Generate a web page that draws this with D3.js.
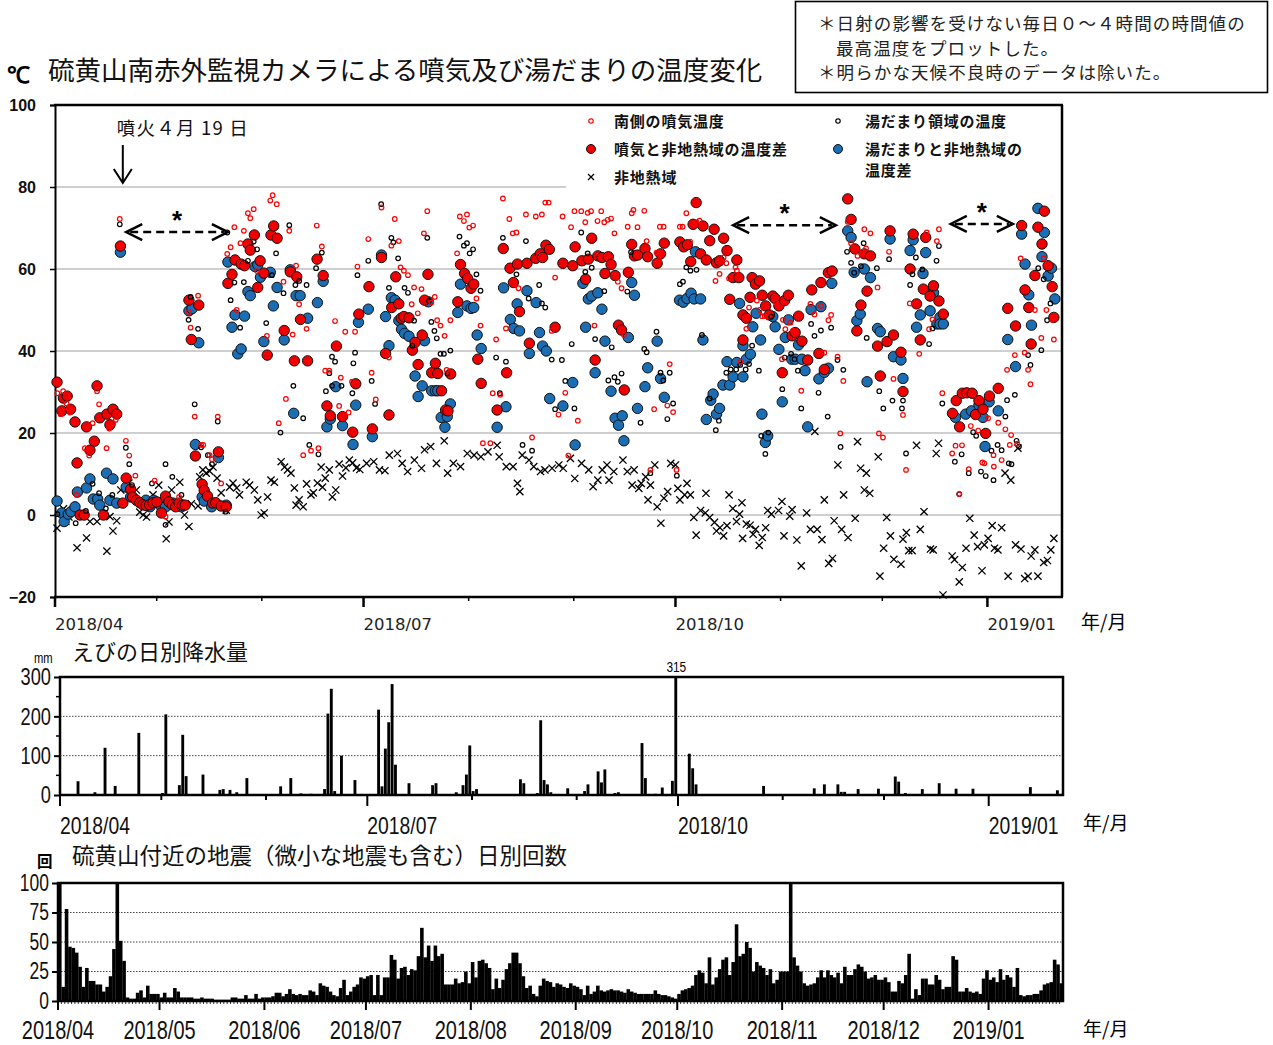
<!DOCTYPE html>
<html>
<head>
<meta charset="utf-8">
<script src="https://cdn.jsdelivr.net/npm/d3@7"></script>
<style>
  body { margin: 0; background: #fff; }
  svg { display: block; }
</style>
</head>
<body>
<svg id="chart" width="1273" height="1045"></svg>
<script>
// ---- time frame: day numbers are counted from 2018-04-01 ----
const START = new Date(Date.UTC(2018, 3, 1));
const END = new Date(Date.UTC(2019, 0, 23));

// 南側の噴気温度 [day, ℃]
const fumaroleTemp = [[0.7,29.7],[1.7,24.6],[2.4,30.2],[3.4,27.2],[4.4,25],[6.4,4.9],[8.8,16.3],[10.1,14.5],[11.1,22.4],[12.4,30.2],[13,27],[15.2,16.3],[16,21.1],[17.1,22.4],[17.9,23.2],[19.1,72.2],[20.9,18.1],[21.9,14.5],[23.7,9.6],[29.4,8.4],[32.6,-0.4],[36.6,4.4],[40,45.7],[39.5,49.5],[41.2,24],[42.2,53.5],[43.1,17.1],[43.7,17.1],[45.6,14.6],[46.3,13.6],[48,24],[49,7.7],[50.8,63.7],[51.8,65.3],[52.9,70.2],[53.6,50],[54.7,66.3],[55.7,69.3],[56.9,73.6],[57.6,72.4],[58.6,74.6],[59.6,59.5],[62.5,43.7],[63.5,76.7],[64.2,78],[65.4,75.8],[66,22.4],[67.4,56.9],[68.1,28.3],[69.1,69.3],[70.1,44],[71.1,60.8],[72,51.4],[73.2,14.6],[74.2,45.4],[75.5,15.7],[77.2,70.6],[77.7,16.3],[78.7,65.5],[79.7,35.2],[80.9,35.2],[82.6,47.3],[83.8,26.6],[84.3,33.5],[85.6,44.7],[86.6,25],[87.6,32.5],[88.5,44.7],[89.2,60.6],[92.4,67.3],[93.4,34.7],[94.6,28.2],[96.3,75],[98.5,38.4],[99.2,65.7],[100.2,72.2],[101.4,66.8],[101.9,60.4],[102.9,59.6],[104.1,58.5],[105.2,51.4],[105.9,55.5],[107,49.2],[108.1,55.1],[108.8,68.7],[109.8,74.1],[111,51.8],[112,53.2],[112.7,47.5],[113.7,46.2],[114.9,43.7],[115.5,35.4],[116.6,47.5],[118.6,63.8],[119.4,72.8],[120.6,71.7],[121.5,73.3],[122.2,70.1],[123.3,70.6],[124.3,52.8],[125.5,46.2],[126.2,17.5],[128.4,17.5],[129.1,29.7],[130.1,42.8],[131.3,29.3],[132.1,77.2],[133,45.5],[134,72.2],[135,68.7],[136.1,68.9],[136.7,55.3],[138.9,73.3],[140.7,18.9],[141.8,72.8],[143.6,73.3],[144.6,76.2],[145.6,76.2],[146.5,44.9],[147.5,57.9],[148.5,24.5],[149.7,72.8],[150.5,29.8],[151.4,14.5],[152.2,70.2],[153.2,74.1],[154.2,23],[155.2,74.1],[156.4,71.4],[157.1,73.7],[158.1,74.1],[159.1,46.2],[160,71.7],[161.1,74.1],[162,71.4],[163,72],[164,72.3],[165,68.7],[166,56.9],[167.1,55.3],[167.8,43.9],[168.9,70.3],[170.1,73.6],[170.6,74.4],[171.8,70.2],[173.8,74.2],[174.5,66.8],[175.6,11],[176.7,25.8],[177.4,64],[178.2,62],[178.4,70.3],[179.5,70.3],[180.6,26.7],[181.3,36.8],[182.3,25.1],[183.3,11],[184.3,70.3],[185.1,70.3],[186.2,73.6],[187.3,66.7],[188,62],[189.2,71.4],[190.1,71.8],[194.8,57.1],[196,58.8],[197.2,62.8],[198,61.4],[198.8,57.7],[200.7,60.4],[201.1,59.6],[202.2,37.4],[203.9,45.4],[204.7,50.6],[207,52.3],[207.8,50],[208.5,48.5],[209.3,48.5],[212.7,51.8],[214.4,38],[214.7,47.6],[215.4,45.3],[216.9,46.9],[217.6,44.9],[220.1,30.3],[222.8,51.5],[224,48.9],[225.9,51],[226.9,39.6],[228.1,47.5],[228.9,48.8],[230.8,38.6],[231.6,19.9],[232.5,32.7],[233.8,71.5],[234.8,66.3],[236.7,63.2],[238,64.2],[238.7,69.7],[239.2,65],[240.5,68.7],[242.6,55.5],[243,19.9],[244.2,18.9],[246,64.2],[247.3,33.2],[250.1,24.4],[251,11],[252.1,51.6],[254.9,39.3],[257.1,68.9],[257.8,45.3],[258.8,47.7],[260.1,66.8],[260.7,69.7],[261.7,29.7],[264.6,15],[265.6,16.9],[266.7,5.1],[266.9,21.7],[267.5,17],[269.5,11.2],[270.1,21.7],[272.3,20.6],[273.5,12.8],[274.1,12.6],[275.2,23.6],[276.8,14.6],[276.9,11.8],[278.2,22.5],[279.2,13.4],[280.3,20.9],[280.8,35.4],[281.6,17.1],[282,19.5],[283.1,39],[283.8,17.4],[284.8,62.6],[286,39.6],[287,35.4],[287.7,31.9],[289,50],[290.9,43.2],[291.6,62.6],[292.4,50],[294.1,47.6],[294.6,42.8]];

// 湯だまり領域の温度 [day, ℃]
const poolTemp = [[0.7,0.2],[6.1,-2],[9.1,1],[11.1,7.6],[13,5.3],[15,1.6],[16.9,4.9],[19.1,70.9],[20.9,16.4],[21.9,12.4],[22.7,7.3],[28.6,7.7],[32.6,-2.4],[32.6,12.4],[34.6,9.3],[37.3,4.9],[39.4,47.6],[40,53.2],[41.2,27],[42.2,45.4],[43.1,16.5],[45.1,14.6],[46.3,12.4],[48,22.8],[50.3,0.8],[50.8,68.9],[51.8,52.4],[52.9,56.7],[54.6,45.7],[55.7,56.8],[56.9,62],[58.6,66.7],[59.6,64.8],[62.3,46.8],[64,58.5],[65.2,63.8],[66.5,20.1],[67.4,54.1],[69.1,70.7],[70.3,31.5],[70.9,56.1],[72,57.1],[73.2,23.6],[74.2,56.1],[75,17.1],[77,60.2],[77.7,14.8],[78.7,64],[79.9,30.2],[80.9,34.6],[81.7,38.6],[81.7,31.5],[82.6,37.4],[84.5,31.5],[87.7,29.7],[88,37],[88.5,39.6],[89.2,58.5],[92.4,62],[93.4,32.7],[94.4,27.1],[96.2,75.8],[98.5,55.4],[99.2,67.6],[99.8,66.5],[101.2,62.6],[103.1,55.4],[104.1,54.2],[105.4,41.3],[105.9,47.4],[109.8,67.6],[110.3,52.2],[111,47.1],[111.9,44.9],[112.6,43.1],[113.7,39.3],[114.7,39.3],[115.7,34.5],[116.6,40.1],[119.3,67.9],[120.6,65.7],[121.5,66.3],[122.3,63.8],[123.3,64.8],[124.3,58.7],[125.5,54.7],[130.1,38.4],[131.2,29.7],[132.1,67.6],[133,37.4],[136.1,58.7],[137.9,17.1],[138.9,66.8],[139.7,52.8],[140.7,15.7],[142.8,56.1],[143.6,51.6],[144.6,50.6],[146.5,37.9],[147.5,25.8],[149.5,37.8],[150.5,32.7],[152.4,41.7],[153.2,26],[155.2,68.9],[156.4,59.3],[157.1,63.8],[158.3,60.3],[159.3,42.9],[162,54.6],[163.2,32.8],[164.2,40.9],[165,33.6],[166,32.5],[167.1,34.5],[168.8,54.5],[169.9,64.1],[172.7,22.5],[173.8,40.5],[174.5,39.7],[175.6,10.2],[177.4,44.7],[178.6,34.7],[179.4,32.8],[180.6,23.4],[181.3,34.7],[182.3,27.2],[183.4,9.6],[184.3,56.3],[185.2,56.9],[186.2,60.4],[187.4,59.6],[189.2,59.8],[190.8,43.9],[193.1,28.4],[194.9,20.7],[195.8,23],[198,34.7],[199.3,35.5],[200.9,35.5],[202.1,36.6],[203.7,35.5],[204.7,36.8],[205.6,41.3],[207.6,35.2],[208.3,19.3],[209.5,14.9],[210.4,20.1],[211.2,48.4],[214.5,30.7],[215.2,38.4],[217.1,39.3],[218.1,38],[219.1,35.2],[220.1,26],[223,46.6],[224,43.7],[225.2,29.8],[225.9,45],[227.9,24],[228.9,45.7],[230.8,37.8],[231.7,16.6],[232.5,35.4],[233.6,64.2],[234.8,61.5],[235.7,59.1],[237.7,60.7],[238.5,66.3],[239.4,43.2],[242.4,60.2],[243.1,30.2],[244.3,26],[246,62.4],[247,27.9],[249.8,26],[250.1,27.9],[251,15],[252.2,56.1],[252.9,58.7],[253.9,62.8],[255.8,59.9],[257.8,41.7],[258.8,45.5],[260,62],[260.7,65.6],[261.7,27.2],[265.4,13],[266.7,5.1],[267.4,14.8],[269.5,10.2],[270.8,20.2],[271.7,19.3],[273.1,10.6],[274.5,9.5],[276.2,15.7],[276.8,8.5],[278,17.1],[279.2,15.8],[280.3,24],[280.8,28],[281.3,12.6],[282.1,12.4],[283.1,29.3],[283.6,18.1],[284.3,16.7],[287,39],[287.7,36.6],[290,60.2],[290.9,40.2],[291.6,57.5],[292.6,47.5],[293.6,51.6]];

// 噴気と非地熱域の温度差 [day, ℃]
const fumaroleDiff = [[0.6,32.4],[2,25.4],[2.5,28.5],[3.6,29],[4.6,25.8],[5.9,22.7],[6.5,12.7],[7.4,0],[8.6,0],[9.3,21.5],[10.3,15.8],[11.6,18],[12.4,31.5],[13.2,23.7],[14.3,0],[15.3,24.6],[16.2,22],[17.1,25.8],[18.2,24.6],[19.3,65.6],[20,2.9],[21,9],[22.3,6.3],[22.9,4.4],[24,3.6],[25,3],[25.9,2.5],[26.9,2.3],[27.9,2.5],[28.9,3],[30,3.2],[31.4,0.5],[32.6,4.6],[33.6,3.2],[34.6,2.5],[35.6,2],[36.6,2.9],[37.6,2.4],[38.4,2.4],[39.5,52.4],[40.2,42.8],[41.4,14.4],[42.4,51.2],[43.4,7.5],[44,6],[45,4.6],[46.5,2.9],[47.4,3],[48.2,15.4],[49,2.2],[50.5,2],[51,56.5],[52.2,58.7],[53.1,62.2],[54.9,61.2],[55.9,60.8],[56.9,66.1],[57.6,64.6],[58.8,68.3],[59.8,55.5],[60.5,62],[61.6,59],[62.6,39],[63.7,68.3],[64.5,70.5],[65.5,67.5],[67.6,45],[69.4,59.3],[70.6,37.6],[71.3,58.1],[72.4,47.7],[74.5,37.6],[77.3,62.4],[79.1,58.4],[80.2,26.6],[81.2,24.2],[83,41.2],[84.8,24],[87.8,20.2],[88.7,32],[89.6,49],[92.6,55.7],[93.6,21],[96.3,62.8],[97.5,39.4],[98.5,24.4],[99.3,50.6],[100.5,58.1],[101.4,51.5],[102.1,48],[102.9,48.4],[104.4,48.1],[105.4,40.2],[106.2,42.1],[107.1,36.7],[108.3,43.9],[109,52.4],[110,58.7],[111.1,34.7],[112.2,37],[112.9,34.5],[114,30.3],[115.2,25.6],[115.9,25.4],[116.7,34.4],[118.8,52],[119.6,61.1],[120.8,58.9],[121.7,57.7],[122.7,55.3],[123.5,56.3],[124.7,38],[125.7,32.1],[130.4,25.6],[132.2,65],[133.2,34.7],[134.2,60.2],[135.2,56.7],[136.4,61.2],[137,49.6],[139.2,61.4],[139.9,41.9],[141.8,62.6],[143.1,63.7],[143.8,62.8],[144.8,65.8],[145.8,64.8],[147.5,45.8],[149.8,61.4],[152.7,60.8],[153.4,65.4],[155.4,62],[156.5,57.5],[157.3,62.4],[158.3,67.5],[159.3,37.8],[160.1,63.2],[161.3,62.8],[162.2,58.9],[163.2,63],[164,61.1],[165.2,58.4],[166.2,46.3],[167.1,45.1],[167.9,30.5],[169.1,59.2],[170.1,66],[170.9,63.2],[171.8,63.4],[174,65],[174.8,63],[177.6,61.4],[178.6,63.7],[179.7,66.3],[184.3,66.6],[185.4,65.4],[186.5,65.9],[187.5,61.8],[188.2,70.9],[189.1,76.2],[190.4,63.7],[191.1,70.5],[192.1,62.2],[193.1,66.9],[194.4,69.7],[195.1,61.5],[196,62],[197.2,67.5],[198.2,64.5],[199,52.6],[200,57.9],[201.1,62.2],[201.7,57.9],[202.9,48.8],[202.9,42.7],[203.9,48],[205,53.1],[205.6,57.9],[206.6,56.3],[207.8,57.1],[208.6,53.6],[209.6,51],[210.7,48.8],[211.7,53.4],[212.4,52.8],[213.5,51],[214.5,34.7],[215.2,52.3],[216.3,53.6],[217.4,43.7],[218.3,44.5],[219.3,48.5],[220.3,42.4],[222,37.8],[223.2,54.9],[225.3,39.4],[225.9,56.7],[226.9,35.5],[228.1,59.1],[229.2,59.5],[233.8,77.1],[234.8,72.1],[235.9,64.9],[236.5,44.9],[237.7,51.2],[238.7,63.7],[239.5,54.6],[240.5,63.2],[242.6,41.2],[243.4,33.9],[245.4,42.3],[246.3,69.3],[247.3,43.9],[249.5,39.7],[250.1,30.1],[252.2,60],[253.1,68.5],[254.1,51.5],[255.2,42.7],[256.1,55.1],[256.8,67.7],[258.1,53.4],[259.1,55.9],[260.7,52.2],[262,49],[264.7,24.8],[265.8,27.9],[266.8,21.5],[267.6,29.7],[268.9,29.8],[270.5,29.7],[271.5,24.5],[272.5,27.9],[273.7,25.8],[274.5,19.9],[275.6,29],[278.2,30.9],[281,50.4],[283.3,46.1],[285.1,70.6],[286.1,54.9],[287.2,50.6],[287.9,41.7],[289,58.4],[289.9,70.2],[291.1,66.1],[291.8,74.1],[292.9,60.8],[294.1,55.7],[294.6,48.2]];

// 湯だまりと非地熱域の温度差 [day, ℃]
const poolDiff = [[0.6,3.4],[2,0.5],[2.7,-1.6],[3.9,0.2],[4.7,0.8],[5.9,2],[6.6,5.6],[9.3,6.6],[10.3,8.8],[11.3,3.9],[12.6,3.9],[13.2,2.4],[15.2,10.2],[16.2,3.6],[17.1,8.8],[18.2,2.9],[19.3,64.1],[21,6.8],[22.3,4.4],[26.8,3.6],[28,2],[29.1,3.6],[30,3],[31.4,2],[32.6,2],[34.9,2.9],[37.3,2],[39.5,49.8],[40.4,50.3],[41.4,17.2],[42.4,42],[43.4,4.4],[44,3.4],[46.2,2],[48.2,14],[50.5,2.4],[51,61.7],[52.2,45.8],[53.1,48.8],[53.9,39.3],[54.9,40.5],[55.9,48.5],[56.9,54.5],[57.6,53.5],[59,60.6],[59.8,61],[60.6,58],[61.6,42.3],[63.5,59.2],[64.4,51],[65.5,55.5],[67.6,42.7],[69.4,59.8],[70.4,24.8],[71.1,53.5],[72.3,53.5],[74.5,48],[77.4,51.8],[79.1,57],[80.2,21.5],[81.2,23.4],[82.8,31.3],[84.8,21.8],[87.9,17.2],[88.7,26.8],[89.5,47],[92.4,50.2],[93.6,19.1],[96.3,63.4],[97.5,48.4],[98.5,41.3],[99.2,53],[100.3,52.4],[101.4,47.4],[102.2,45.3],[103.1,44.3],[104.4,43.6],[106.2,33.9],[107.1,28.9],[108.3,31.5],[109,42.5],[110.1,52],[111.1,30.3],[112.2,30.3],[112.9,30.3],[113.9,23.8],[115,21.4],[115.7,24],[116.6,27.1],[118.8,49.4],[119.6,56.3],[121.5,51],[122.7,50.4],[123.5,50.6],[124.5,43.9],[125.7,40.6],[130.4,21.4],[132.3,55.4],[133,26.4],[134.3,47.7],[135.3,45.5],[136.3,51.5],[137,44.9],[139.2,54.7],[139.9,39.4],[141.9,51.8],[142.9,44.5],[143.8,41.2],[144.9,40],[145.9,28.4],[149.8,26.6],[152.7,32.3],[153.4,17.1],[155.7,56.5],[156.5,45.8],[157.3,52.7],[158.3,53.4],[159.3,34.7],[160.1,54.2],[161.3,50.2],[162.2,42.4],[164,30.2],[165.2,23.6],[166.2,21.9],[167.3,24.2],[167.8,18.1],[169.1,43.3],[170.1,56.7],[170.9,53.6],[171.8,26],[174,31.3],[174.8,35.9],[177.6,42.4],[178.6,33.3],[179.7,28.7],[184.2,52.4],[185.3,51.9],[186.4,52.8],[187.6,54.1],[188.5,52.7],[188.9,64.2],[190.4,52.7],[191.1,42.7],[192.1,23.3],[193.4,28],[194.1,29.5],[195.1,24.6],[196,26],[197,31.7],[198.2,37.4],[199,31.7],[200,33.7],[201.1,37.2],[201.9,51.6],[202.9,33.7],[202.9,41.3],[203.9,38],[205.1,39.2],[205.8,45.9],[206.8,49.2],[208.1,42.7],[208.5,24.6],[209.5,17.7],[210.2,19.3],[211.7,48.4],[212.4,45.9],[213.5,40.4],[214.5,27.6],[215.4,43.3],[216.3,47.6],[217.3,38],[218.3,38],[219.3,41.5],[220.3,38],[221.2,35.2],[222,21.5],[223,50.1],[225.3,33.2],[225.9,50.8],[226.9,34.8],[228.1,35.8],[229.1,56.5],[233.8,69.3],[234.8,67.7],[235.7,59.2],[236.5,47.4],[237.5,49],[238.7,60],[239.5,32.5],[240.5,57.9],[242.6,45.5],[243.4,44.7],[246.3,67.3],[247.3,38.6],[249.5,37.8],[250.1,33.3],[252.2,64.5],[253.1,67.1],[254.1,45.8],[255.2,48.8],[256,58.9],[256.8,64],[258.1,49.8],[259.1,54.2],[260.1,46.6],[261,48.2],[261,46.6],[262,46.6],[265.6,23.8],[268.6,24.6],[270.3,25.4],[272.5,26.8],[273.7,23.8],[274.3,16.7],[275.5,27.6],[278.2,25.4],[281,42.8],[283.3,36.2],[285.1,68.5],[286.1,61.2],[287.2,53.7],[288,46.3],[289.9,74.8],[291.1,63],[291.8,68.9],[292.9,58.3],[293.9,60.2],[294.9,52.7]];

// 非地熱域 [day, ℃]
const backgroundTemp = [[0.6,-3.2],[2.5,1.5],[3.2,-1.6],[4.1,-0.5],[6.5,-8],[9.3,-5.6],[10.3,-1.6],[12.4,-1.6],[15.3,-8.8],[16.2,-0.4],[17.1,-3.9],[18.2,-1.4],[19.4,6.1],[21.8,7.8],[24,6.1],[25,0.7],[26,0],[27,-0.5],[28.9,4.9],[30.6,7.3],[32.8,-5.8],[33.6,-1.7],[34.4,6.1],[36.8,8],[38.2,0],[39.5,-2.8],[40.2,2.7],[42.2,2.2],[42.7,9.3],[43.6,11],[44.6,10.2],[45.6,10.7],[46.6,11.7],[47.8,9],[49,5.4],[50.5,1.2],[51.5,6.8],[52.5,7.8],[53.6,6.6],[54.4,4.9],[56.4,8],[57.4,7.3],[58.8,6.1],[59.8,3.7],[60.8,0],[61.7,0.5],[62.7,4.4],[63.7,8.5],[64.7,8],[66.7,13],[67.7,11.7],[68.6,11],[69.6,10.2],[70.6,6.6],[71.1,2.4],[72,3.7],[73.2,2],[74.2,7.6],[75.5,4.9],[76.2,5.4],[77.4,7.8],[78.5,11.7],[78.9,6.8],[79.7,9],[80.9,11],[81.8,4.4],[82.8,6.1],[83.8,12.4],[84.8,9.5],[85.8,11.5],[86.8,13.4],[87.8,12.7],[88.9,11.5],[89.9,11.1],[91.9,12.6],[94,13],[95.7,11],[97.3,10.8],[98.6,14.6],[101,15],[102.4,12.6],[104,10.6],[106,13.4],[108.1,11.4],[109,15.9],[110.8,16.7],[112.5,12.6],[114.8,18.1],[115.8,10.2],[117.5,12.6],[119.6,11.8],[121.6,15],[123.6,14.6],[125.6,14.2],[127.7,15.4],[130.4,17],[131,14.2],[133.1,11.8],[135.1,11.8],[136.4,7.7],[137.1,5.7],[137.8,14.6],[139.8,13.4],[141.2,11.8],[143.2,10.6],[144.5,11],[146.6,11.4],[148.6,12.2],[149.9,11.4],[152,13.8],[153.3,8.9],[155.3,12.6],[157.4,11],[158.7,6.9],[160.1,8.5],[161.4,11],[162.8,12.2],[163.4,8.5],[164.8,10.6],[167.5,13.4],[168.8,10.6],[170.2,7.3],[170.8,11],[172.2,6.5],[172.9,7.7],[174.2,9.3],[174.9,3.7],[175.6,7.3],[176.9,12.2],[177.6,2],[178.7,-2],[179.6,4.1],[180.7,5.7],[181.6,12.6],[183,12.2],[183.7,6.5],[184.3,3.7],[185.7,4.9],[186.4,7.7],[187.4,4.9],[188.4,-0.6],[189.1,-4.9],[190.4,1.1],[191.8,0.5],[192,5.3],[193.1,-0.6],[194.5,-1.8],[195.1,-3.9],[196.1,-3.1],[197.2,-5.1],[198.2,-2.6],[198.8,4.9],[199.9,1.6],[201,-1.6],[201.9,0.2],[202.6,3],[202.8,-5.7],[203.9,-2.2],[205,-2.5],[205.9,-4.7],[206.6,-3.5],[207.7,-7.4],[208.6,-5.5],[209.6,-3.1],[210.2,1.1],[211.3,0.2],[213.4,1.1],[214.4,3.3],[215,-5.1],[216.7,-0.3],[217.4,1.3],[218.8,-6.1],[220.1,-12.4],[221.7,0.5],[222.8,-3.5],[224.1,20.4],[224.8,-3.5],[226.2,-6],[226.9,3.7],[228.2,-11.8],[229.3,-10.6],[229.8,-1.4],[230.9,12.2],[232,-3.5],[232.6,4.9],[233.9,-5.5],[236,-0.8],[236.7,17.9],[237.6,11.4],[238.7,6.1],[239.3,10.2],[240.3,5.3],[242.8,14.2],[243.3,-14.9],[244.4,-8.1],[245.3,-0.6],[246.4,-5.1],[247.4,-10.8],[249.5,-12],[250.1,-5.9],[251.1,-4.3],[251.8,-8.7],[252.8,-8.7],[254.1,17],[255.2,-3.5],[256.3,0.8],[258.2,-8.3],[259,-8.5],[259.9,15],[260.6,17.5],[261.9,-19.5],[264.6,-10],[265.3,-10.9],[266.7,-16.3],[267.6,-12.8],[268.7,-8.1],[269.8,-0.8],[271.1,-4.9],[272.1,-7.7],[273.4,-13.6],[274.1,-7.3],[275.2,-5.7],[276.4,-2.6],[277.1,-8.1],[278.1,-8.5],[279.2,-3.1],[280.2,10.2],[281.1,-14.9],[281.9,8.5],[283.3,-7.3],[284,16.3],[284.9,-8.3],[286,-15.5],[287,-14.9],[287.9,-10],[289,-8.5],[289.9,-14.9],[291.6,-11.6],[292.7,-11.1],[293.7,-8.5],[294.6,-5.7]];

// えびの日別降水量 [day, mm]
const rainfall = [[5,35],[10,7],[13,120],[16,23],[23,158],[30,5],[31,205],[35,25],[36,153],[37,48],[42,52],[47,13],[48,15],[50,13],[52,7],[55,43],[60,2],[65,22],[68,43],[71,4],[74,3],[78,15],[79,207],[80,270],[81,10],[83,100],[87,38],[94,217],[95,22],[96,118],[97,185],[98,282],[99,77],[103,30],[110,25],[111,30],[117,7],[119,25],[120,52],[121,126],[122,10],[123,15],[126,2],[136,40],[137,30],[141,5],[142,190],[143,38],[144,27],[145,7],[148,2],[150,17],[154,2],[155,10],[156,27],[159,60],[160,32],[161,65],[164,5],[165,7],[172,132],[173,43],[176,3],[178,19],[181,36],[182,315],[186,105],[187,68],[188,27],[193,2],[197,2],[208,23],[223,17],[226,27],[230,27],[231,8],[232,8],[236,15],[242,16],[247,47],[248,34],[250,5],[255,15],[260,30],[265,16],[270,16],[287,20],[295,12]];

// 硫黄山付近の地震 日別回数 (2018-04-01 から)
const quakesApr = [100,12,78,46,45,41,29,12,28,17,17,14,14,8,12,21,44,100,51,34,3,2,2,7,9,3,13,6,6,6];
const quakesMay = [3,7,3,3,11,8,3,3,3,3,2,2,3,2,2,2,1,1,1,1,1,3,3,2,2,5,2,2,6,2,3];
const quakesJun = [3,3,4,7,7,4,6,10,6,5,6,5,5,9,8,5,15,13,12,8,5,4,11,18,5,8,12,14,20,19];
const quakesJul = [21,22,5,22,5,20,20,39,35,19,28,29,22,27,26,38,62,37,47,34,47,38,40,14,14,14,19,15,16,25,15];
const quakesAug = [33,20,34,35,32,28,10,19,11,18,27,32,41,41,32,21,11,13,6,4,13,19,17,16,12,15,14,12,11,15,13];
const quakesSep = [12,10,5,13,6,8,13,9,8,9,10,9,9,8,7,10,8,7,6,6,6,6,6,9,6,5,5,4,3,2];
const quakesOct = [6,9,10,11,13,22,26,24,15,37,14,20,27,35,37,22,33,65,38,40,50,45,25,33,30,28,22,27,15,18,25];
const quakesNov = [25,25,100,37,30,25,15,13,14,15,20,26,20,26,22,20,24,15,29,22,22,27,31,29,25,19,20,22,18,18];
const quakesDec = [20,16,8,8,17,15,22,40,2,10,5,19,19,14,14,22,18,10,12,12,38,35,8,8,11,8,7,8,6,19,26];
const quakesJan = [18,20,16,27,18,22,20,12,28,5,4,5,5,6,6,9,14,15,16,35,31,15];

// axis settings
const tempTicks = [-20, 0, 20, 40, 60, 80, 100];
const tempGrid = [0, 20, 40, 60];
const rainTicks = [0, 100, 200, 300];
const quakeTicks = [0, 25, 50, 75, 100];

// annotations: [from day, to day, ℃]
const excludedSpans = [[21, 51, 69], [200, 230.3, 70.7], [264.2, 282.5, 71]];
const eruptionDay = 20;

const dateOf = d => new Date(START.getTime() + d * 864e5);
const svg = d3.select("#chart");
const JP = "'Noto Sans CJK JP', 'Noto Sans', sans-serif";
const SANS = "'Liberation Sans', Arial, sans-serif";

// squeeze text horizontally around its own anchor point (condensed look)
function condense(sel, k) {
  sel.each(function () {
    const t = d3.select(this);
    const x = +t.attr("x") || 0, y = +t.attr("y") || 0;
    t.attr("transform", `translate(${x},${y}) scale(${k},1) translate(${-x},${-y})`);
  });
}

const months = d3.utcMonth.range(START, END);
const isQuarter = m => m.getUTCMonth() % 3 === 0;
const fmtYM = d3.utcFormat("%Y/%m");

// ================= panel 1: temperatures =================
const x1 = d3.scaleUtc().domain([START, END]).range([55, 1062]);
const y1 = d3.scaleLinear().domain([-20, 100]).range([597, 105]);

// notes box
const note = svg.append("g").attr("font-family", JP).attr("font-size", 17.5).attr("fill", "#222");
note.append("rect").attr("x", 795.5).attr("y", 1.5).attr("width", 472).attr("height", 91)
  .attr("fill", "#fff").attr("stroke", "#000").attr("stroke-width", 1.6);
note.append("text").attr("x", 818).attr("y", 30).attr("letter-spacing", 1.1).text("＊日射の影響を受けない毎日０～４時間の時間値の");
note.append("text").attr("x", 836).attr("y", 55).attr("letter-spacing", 1.1).text("最高温度をプロットした。");
note.append("text").attr("x", 818).attr("y", 79).attr("letter-spacing", 1.1).text("＊明らかな天候不良時のデータは除いた。");

// title
svg.append("text").attr("x", 7).attr("y", 83).attr("font-family", SANS).attr("font-weight", "bold")
  .attr("font-size", 23).text("℃");
svg.append("text").attr("x", 48).attr("y", 80).attr("font-family", JP).attr("font-size", 26.5)
  .attr("fill", "#111").text("硫黄山南赤外監視カメラによる噴気及び湯だまりの温度変化");

// grid lines
const p1 = svg.append("g");
p1.selectAll("line.grid").data(tempGrid).join("line")
  .attr("x1", x1.range()[0]).attr("x2", x1.range()[1])
  .attr("y1", d => y1(d)).attr("y2", d => y1(d))
  .attr("stroke", "#a0a0a0").attr("stroke-width", 1.2);
// the 80 line stops where the legend begins
p1.append("line").attr("x1", x1.range()[0]).attr("x2", 566)
  .attr("y1", y1(80)).attr("y2", y1(80)).attr("stroke", "#a0a0a0").attr("stroke-width", 1.2);

// frame
p1.append("line").attr("x1", 54).attr("x2", 1063).attr("y1", 105).attr("y2", 105).attr("stroke", "#000").attr("stroke-width", 2.5);
p1.append("line").attr("x1", 1062).attr("x2", 1062).attr("y1", 105).attr("y2", 597).attr("stroke", "#000").attr("stroke-width", 2.5);

// y axis
const yAx1 = p1.append("g").attr("transform", "translate(55,0)")
  .call(d3.axisLeft(y1).tickValues(tempTicks).tickSize(5).tickPadding(14));
yAx1.select(".domain").attr("stroke-width", 2);
yAx1.selectAll(".tick line").attr("stroke-width", 1.5);
yAx1.selectAll("text").attr("font-family", SANS).attr("font-weight", "bold").attr("font-size", 16).attr("fill", "#111");

// x axis
const xAx1 = p1.append("g").attr("transform", "translate(0,597)");
xAx1.append("line").attr("x1", 54).attr("x2", 1063).attr("stroke", "#000").attr("stroke-width", 2.5);
xAx1.selectAll("line.t").data(months).join("line").attr("class", "t")
  .attr("x1", d => x1(d)).attr("x2", d => x1(d)).attr("y1", 0).attr("y2", d => isQuarter(d) ? 10 : 4)
  .attr("stroke", "#000").attr("stroke-width", d => isQuarter(d) ? 2.5 : 1.5);
xAx1.selectAll("text").data(months.filter(isQuarter)).join("text")
  .attr("x", d => x1(d)).attr("y", 33).attr("font-family", "'DejaVu Sans', sans-serif")
  .attr("font-size", 16.5).attr("fill", "#222").text(fmtYM);
svg.append("text").attr("x", 1081).attr("y", 629).attr("font-family", JP).attr("font-size", 19).text("年/月");

// markers
const cross = (g, s) => g.append("path").attr("d", `M${-s},${-s}L${s},${s}M${-s},${s}L${s},${-s}`)
  .attr("stroke", "#000").attr("stroke-width", 1.3).attr("fill", "none");

const marks = p1.append("g");
marks.selectAll("g.bg").data(backgroundTemp).join("g").attr("class", "bg")
  .attr("transform", d => `translate(${x1(dateOf(d[0]))},${y1(d[1])})`)
  .each(function () { cross(d3.select(this), 3.6); });

marks.selectAll("circle.pd").data(poolDiff).join("circle").attr("class", "pd")
  .attr("cx", d => x1(dateOf(d[0]))).attr("cy", d => y1(d[1])).attr("r", 5.2)
  .attr("fill", "#1b6db4").attr("stroke", "#111").attr("stroke-width", 1);
marks.selectAll("circle.fd").data(fumaroleDiff).join("circle").attr("class", "fd")
  .attr("cx", d => x1(dateOf(d[0]))).attr("cy", d => y1(d[1])).attr("r", 5.2)
  .attr("fill", "#f00000").attr("stroke", "#111").attr("stroke-width", 1);
marks.selectAll("circle.pt").data(poolTemp).join("circle").attr("class", "pt")
  .attr("cx", d => x1(dateOf(d[0]))).attr("cy", d => y1(d[1])).attr("r", 2.3)
  .attr("fill", "none").attr("stroke", "#000").attr("stroke-width", 1.2);
marks.selectAll("circle.ft").data(fumaroleTemp).join("circle").attr("class", "ft")
  .attr("cx", d => x1(dateOf(d[0]))).attr("cy", d => y1(d[1])).attr("r", 2.3)
  .attr("fill", "none").attr("stroke", "#ff0000").attr("stroke-width", 1.2);

// eruption arrow
const ex = x1(dateOf(eruptionDay));
const ann = svg.append("g");
ann.append("text").attr("x", ex - 6).attr("y", 135).attr("font-family", JP).attr("font-size", 18.5)
  .attr("letter-spacing", 1.2).attr("fill", "#111").text("噴火４月 19 日");
ann.append("path").attr("d", `M${ex},145V183M${ex - 9},169L${ex},183L${ex + 9},169`)
  .attr("fill", "none").attr("stroke", "#000").attr("stroke-width", 2);

// excluded-period arrows
excludedSpans.forEach(([a, b, v]) => {
  const xa = x1(dateOf(a)), xb = x1(dateOf(b)), yy = y1(v);
  ann.append("line").attr("x1", xa + 4).attr("x2", xb - 4).attr("y1", yy).attr("y2", yy)
    .attr("stroke", "#000").attr("stroke-width", 2.5).attr("stroke-dasharray", "8,5");
  ann.append("path").attr("d", `M${xa + 16},${yy - 8}L${xa},${yy}L${xa + 16},${yy + 8}M${xb - 16},${yy - 8}L${xb},${yy}L${xb - 16},${yy + 8}`)
    .attr("fill", "none").attr("stroke", "#000").attr("stroke-width", 2.5);
  ann.append("text").attr("x", (xa + xb) / 2).attr("y", yy - 3).attr("text-anchor", "middle")
    .attr("font-family", SANS).attr("font-weight", "bold").attr("font-size", 26).text("*");
});

// legend
const legend = svg.append("g").attr("font-family", JP).attr("font-weight", "bold").attr("font-size", 15).attr("fill", "#111");
const lg = [
  {x: 591, y: 121, type: "ft", label: ["南側の噴気温度"]},
  {x: 591, y: 149, type: "fd", label: ["噴気と非地熱域の温度差"]},
  {x: 591, y: 177, type: "bg", label: ["非地熱域"]},
  {x: 838, y: 121, type: "pt", label: ["湯だまり領域の温度"]},
  {x: 838, y: 149, type: "pd", label: ["湯だまりと非地熱域の", "温度差"]}
];
lg.forEach(it => {
  const g = legend.append("g").attr("transform", `translate(${it.x},${it.y})`);
  if (it.type === "ft") g.append("circle").attr("r", 2.2).attr("fill", "none").attr("stroke", "#f00").attr("stroke-width", 1.2);
  if (it.type === "pt") g.append("circle").attr("r", 2.2).attr("fill", "none").attr("stroke", "#000").attr("stroke-width", 1.2);
  if (it.type === "fd") g.append("circle").attr("r", 4.5).attr("fill", "#f00000").attr("stroke", "#111");
  if (it.type === "pd") g.append("circle").attr("r", 4.5).attr("fill", "#1b6db4").attr("stroke", "#111");
  if (it.type === "bg") cross(g, 3);
  it.label.forEach((t, i) => g.append("text").attr("x", it.x === 591 ? 23 : 27).attr("y", 5.5 + i * 21).attr("letter-spacing", 0.8).text(t));
});

// ================= panel 2: rainfall =================
const x2 = d3.scaleUtc().domain([START, END]).range([60, 1063]);
const y2 = d3.scaleLinear().domain([0, 300]).range([795, 677]);
const p2 = svg.append("g");

svg.append("text").attr("x", 72).attr("y", 660).attr("font-family", JP).attr("font-size", 22).attr("fill", "#111").text("えびの日別降水量");
condense(svg.append("text").attr("x", 34).attr("y", 663).attr("font-family", SANS).attr("font-size", 14).text("mm"), 0.8);

p2.selectAll("line.g").data([100, 200]).join("line").attr("class", "g")
  .attr("x1", 60).attr("x2", 1063).attr("y1", d => y2(d)).attr("y2", d => y2(d))
  .attr("stroke", "#444").attr("stroke-width", 1).attr("stroke-dasharray", "1.5,1.5");

const dayW2 = x2(dateOf(1)) - x2(dateOf(0));
p2.selectAll("rect").data(rainfall).join("rect")
  .attr("x", d => x2(dateOf(d[0])) - 0.3)
  .attr("width", dayW2 - 0.5)
  .attr("y", d => y2(Math.min(d[1], 300)))
  .attr("height", d => y2(0) - y2(Math.min(d[1], 300)))
  .attr("fill", "#000");
condense(p2.selectAll("text.over").data(rainfall.filter(d => d[1] > 300)).join("text").attr("class", "over")
  .attr("x", d => x2(dateOf(d[0])) + dayW2 / 2).attr("y", y2(300) - 5).attr("text-anchor", "middle")
  .attr("font-family", SANS).attr("font-size", 14).text(d => d[1]), 0.85);

p2.append("rect").attr("x", 60).attr("y", 677).attr("width", 1003).attr("height", 118)
  .attr("fill", "none").attr("stroke", "#000").attr("stroke-width", 2.5);

const yAx2 = p2.append("g").attr("transform", "translate(60,0)")
  .call(d3.axisLeft(y2).tickValues(rainTicks).tickSize(6).tickPadding(3));
yAx2.select(".domain").remove();
yAx2.selectAll(".tick line").attr("stroke-width", 2);
condense(yAx2.selectAll("text").attr("font-family", SANS).attr("font-size", 24).attr("fill", "#111"), 0.76);
p2.selectAll("line.mt").data([50, 150, 250]).join("line").attr("class", "mt")
  .attr("x1", 56).attr("x2", 60).attr("y1", d => y2(d)).attr("y2", d => y2(d)).attr("stroke", "#000").attr("stroke-width", 1.5);

p2.selectAll("line.xt").data(months).join("line").attr("class", "xt")
  .attr("x1", d => x2(d)).attr("x2", d => x2(d)).attr("y1", 795).attr("y2", d => isQuarter(d) ? 806 : 800)
  .attr("stroke", "#000").attr("stroke-width", 2);
condense(p2.selectAll("text.xl").data(months.filter(isQuarter)).join("text").attr("class", "xl")
  .attr("x", d => x2(d)).attr("y", 834).attr("font-family", SANS).attr("font-size", 24.5).attr("fill", "#111").text(fmtYM), 0.79);
svg.append("text").attr("x", 1083).attr("y", 830).attr("font-family", JP).attr("font-size", 19).text("年/月");

// ================= panel 3: earthquakes =================
const quakeCounts = [].concat(quakesApr, quakesMay, quakesJun, quakesJul, quakesAug, quakesSep, quakesOct, quakesNov, quakesDec, quakesJan);
const x3 = d3.scaleUtc().domain([START, END]).range([58, 1063]);
const y3 = d3.scaleLinear().domain([0, 100]).range([1001, 883]);
const p3 = svg.append("g");

svg.append("text").attr("x", 72).attr("y", 864).attr("font-family", JP).attr("font-size", 22.5).attr("fill", "#111").text("硫黄山付近の地震（微小な地震も含む）日別回数");
svg.append("text").attr("x", 37).attr("y", 867).attr("font-family", JP).attr("font-weight", "bold").attr("font-size", 15.5).text("回");

p3.selectAll("line.g").data([25, 50, 75]).join("line").attr("class", "g")
  .attr("x1", 58).attr("x2", 1063).attr("y1", d => y3(d)).attr("y2", d => y3(d))
  .attr("stroke", "#444").attr("stroke-width", 1).attr("stroke-dasharray", "1.5,1.5");

p3.selectAll("rect.q").data(quakeCounts).join("rect").attr("class", "q")
  .attr("x", (d, i) => x3(dateOf(i)))
  .attr("width", (d, i) => x3(dateOf(i + 1)) - x3(dateOf(i)) + 0.2)
  .attr("y", d => y3(Math.min(d, 100)))
  .attr("height", d => y3(0) - y3(Math.min(d, 100)))
  .attr("fill", "#000");

p3.append("rect").attr("x", 58).attr("y", 883).attr("width", 1005).attr("height", 118)
  .attr("fill", "none").attr("stroke", "#000").attr("stroke-width", 2.5);

const yAx3 = p3.append("g").attr("transform", "translate(58,0)")
  .call(d3.axisLeft(y3).tickValues(quakeTicks).tickSize(6).tickPadding(3));
yAx3.select(".domain").remove();
yAx3.selectAll(".tick line").attr("stroke-width", 2);
condense(yAx3.selectAll("text").attr("font-family", SANS).attr("font-size", 23).attr("fill", "#111"), 0.76);

const days = d3.utcDay.range(START, END);
p3.selectAll("line.dt").data(days).join("line").attr("class", "dt")
  .attr("x1", d => x3(d)).attr("x2", d => x3(d)).attr("y1", 1001).attr("y2", 1004)
  .attr("stroke", "#000").attr("stroke-width", 0.8);
p3.selectAll("line.xt").data(months).join("line").attr("class", "xt")
  .attr("x1", d => x3(d)).attr("x2", d => x3(d)).attr("y1", 1001).attr("y2", 1010)
  .attr("stroke", "#000").attr("stroke-width", 2);
condense(p3.selectAll("text.xl").data(months).join("text").attr("class", "xl")
  .attr("x", d => x3(d)).attr("y", 1039).attr("text-anchor", "middle")
  .attr("font-family", SANS).attr("font-size", 25).attr("fill", "#111").text(fmtYM), 0.8);
svg.append("text").attr("x", 1083).attr("y", 1036).attr("font-family", JP).attr("font-size", 19).text("年/月");
</script>
</body>
</html>
